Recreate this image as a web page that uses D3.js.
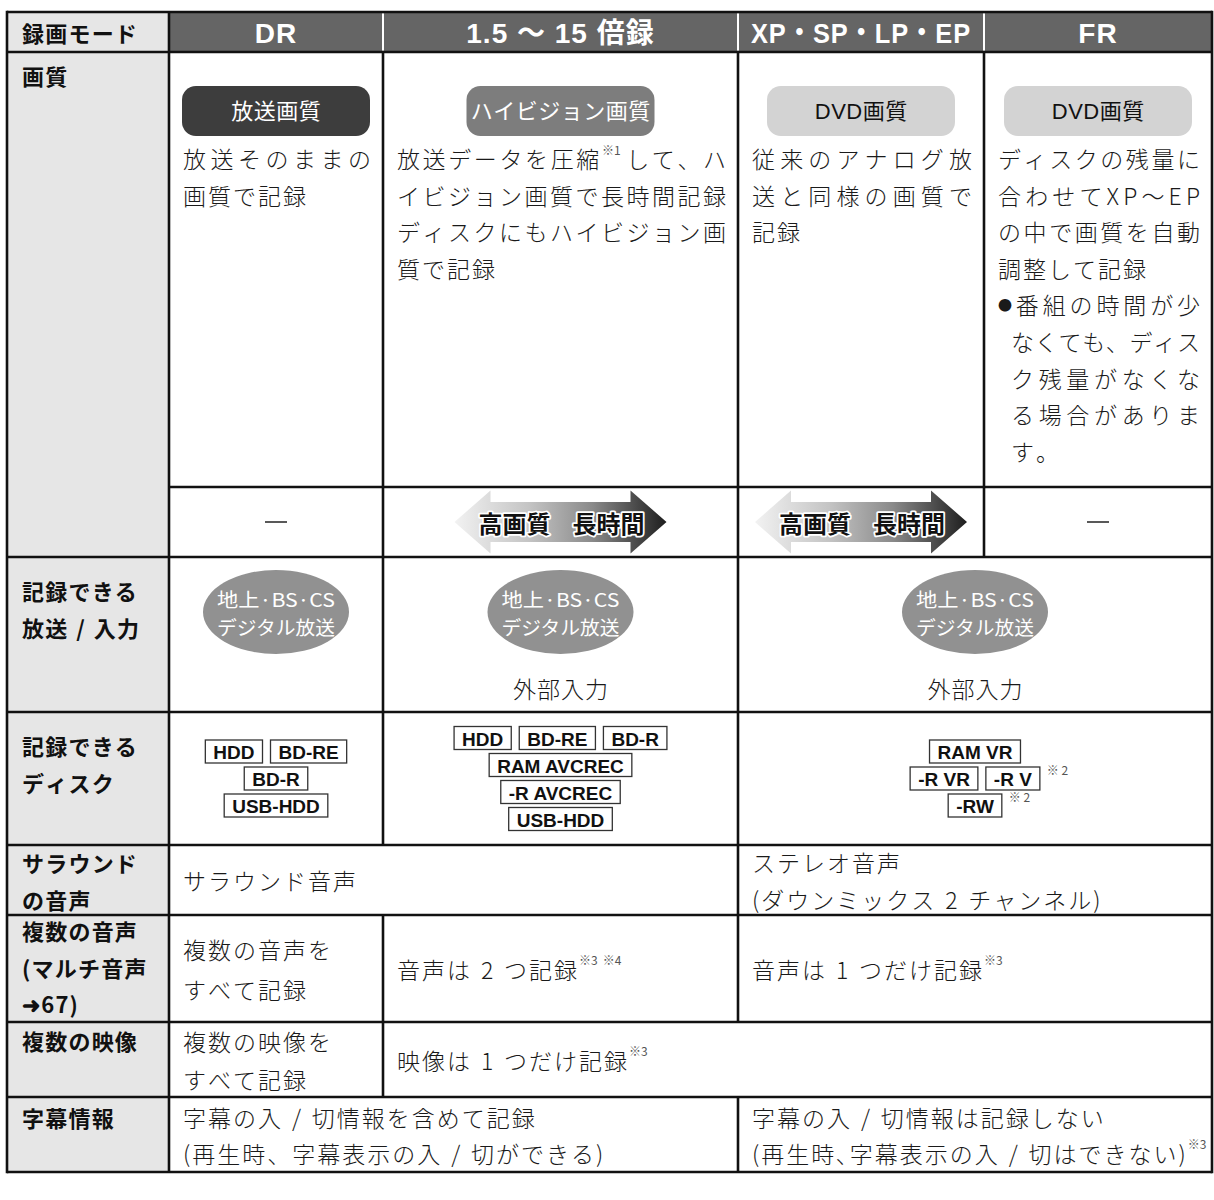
<!DOCTYPE html>
<html lang="ja"><head><meta charset="utf-8">
<script src="https://cdn.jsdelivr.net/npm/d3@7/dist/d3.min.js"></script>
<style>html,body{margin:0;padding:0;background:#fff}</style>
</head><body>
<svg id="chart" width="1214" height="1200"></svg>
<script>
// ---------------- data ----------------
const modes = ["録画モード", "DR", "1.5 ～ 15 倍録", "XP・SP・LP・EP", "FR"];
const rowLabels = [["画質"], ["記録できる", "放送 / 入力"], ["記録できる", "ディスク"], ["サラウンド", "の音声"], ["複数の音声", "(マルチ音声", "➜67)"], ["複数の映像"], ["字幕情報"]];
const qualityBadges = ["放送画質", "ハイビジョン画質", "DVD画質", "DVD画質"];
const qualityParagraphs = [
  [["放送そのままの", "画質で記録"]],
  [["放送データを圧縮※1して、ハ", "イビジョン画質で長時間記録", "ディスクにもハイビジョン画", "質で記録"]],
  [["従来のアナログ放", "送と同様の画質で", "記録"]],
  [["ディスクの残量に", "合わせてXP～EP", "の中で画質を自動", "調整して記録"], ["●番組の時間が少", "なくても、ディス", "ク残量がなくな", "る場合がありま", "す。"]]
];
const arrowRow = ["—", "arrow", "arrow", "—"];
const arrowLabels = ["高画質", "長時間"];
const broadcastBadge = ["地上·BS·CS", "デジタル放送"];
const broadcastExtra = [null, "外部入力", "外部入力"];
const diskLines = [
  [["HDD", "BD-RE"], ["BD-R"], ["USB-HDD"]],
  [["HDD", "BD-RE", "BD-R"], ["RAM AVCREC"], ["-R AVCREC"], ["USB-HDD"]],
  [["RAM VR"], ["-R VR", "-R V※2"], ["-RW※2"]]
];
const surroundText = [["サラウンド音声"], ["ステレオ音声", "(ダウンミックス 2 チャンネル)"]];
const audioText = [["複数の音声を", "すべて記録"], ["音声は 2 つ記録※3※4"], ["音声は 1 つだけ記録※3"]];
const videoText = [["複数の映像を", "すべて記録"], ["映像は 1 つだけ記録※3"]];
const captionText = [["字幕の入 / 切情報を含めて記録", "(再生時、字幕表示の入 / 切ができる)"], ["字幕の入 / 切情報は記録しない", "(再生時､字幕表示の入 / 切はできない)※3"]];

// table structure (which mode columns each cell spans)
const spans = {
  quality: [[1, 2], [2, 3], [3, 4], [4, 5]],
  arrow: [[1, 2], [2, 3], [3, 4], [4, 5]],
  bcast: [[1, 2], [2, 3], [3, 5]],
  disk: [[1, 2], [2, 3], [3, 5]],
  surround: [[1, 3], [3, 5]],
  audio: [[1, 2], [2, 3], [3, 5]],
  video: [[1, 2], [2, 5]],
  caption: [[1, 3], [3, 5]]
};

// ---------------- layout ----------------
const svg = d3.select("#chart");
const FJ = '"Noto Sans CJK JP","Noto Sans",sans-serif';
const FL = '"Liberation Sans","Noto Sans CJK JP",sans-serif';
const colX = d3.scaleOrdinal().domain(d3.range(6)).range([7, 169, 383, 738, 984, 1212]);
const rowKeys = ["top", "head", "quality", "arrow", "bcast", "disk", "surround", "audio", "video", "caption"];
const rowY = d3.scaleOrdinal().domain(rowKeys).range([12, 52, 487, 557, 712, 845, 915, 1022, 1097, 1172]);
const band = k => { const i = rowKeys.indexOf(k); return [rowY(rowKeys[i - 1]), rowY(k)]; };
const labelBands = ["head", "arrow", "bcast", "disk", "surround", "audio", "video"];
const labelOffsets = [23, 33, 33, 17, 15, 18, 20];

const gBg = svg.append("g"), gC = svg.append("g"), gL = svg.append("g");

// text measuring
const meas = svg.append("text").attr("x", 20).attr("y", 20).attr("visibility", "hidden");
const cache = new Map();
function tw(s, size, weight, fam) {
  const k = s + "|" + size + "|" + weight + "|" + fam;
  if (cache.has(k)) return cache.get(k);
  let w;
  if (s === " ") w = size * 0.3;
  else { meas.attr("font-size", size).attr("font-weight", weight).attr("font-family", fam).text(s); w = meas.node().getComputedTextLength(); }
  cache.set(k, w); return w;
}
function tokenize(str) {
  const out = []; const re = /※(\d)/g; let last = 0, m;
  while ((m = re.exec(str)) !== null) {
    for (const ch of str.slice(last, m.index)) out.push({ t: ch, sup: false });
    out.push({ t: "※" + m[1], sup: true }); last = re.lastIndex;
  }
  for (const ch of str.slice(last)) out.push({ t: ch, sup: false });
  return out;
}
function drawText(g, str, x, y, o = {}) {
  const size = o.size || 23, weight = o.weight || 300, fam = o.family || FJ, ls = (o.ls ?? 2), fill = o.fill || "#1a1a1a";
  const supSize = 12;
  const toks = tokenize(str);
  toks.forEach(t => {
    t.size = t.sup ? supSize : (t.t === "●" ? Math.round(size * 0.62) : size);
    t.w = t.sup ? tw(t.t, supSize, 400, FJ) + 3 : tw(t.t, t.size, weight, fam);
  });
  const sumW = d3.sum(toks, t => t.w);
  let gap = ls;
  if (o.justify && toks.length > 1) gap = (o.justify - sumW) / (toks.length - 1);
  const total = sumW + gap * (toks.length - 1);
  let cx = o.anchor === "middle" ? x - total / 2 : x;
  toks.forEach(t => {
    g.append("text").attr("x", cx).attr("y", t.sup ? y - 9 : y)
      .attr("dominant-baseline", "central")
      .attr("font-family", t.sup ? FJ : fam).attr("font-size", t.size)
      .attr("font-weight", t.sup ? 400 : weight)
      .attr("fill", t.sup ? "#555" : fill)
      .attr("stroke", o.stroke || null).attr("stroke-width", o.stroke ? o.strokeW : null)
      .attr("paint-order", o.stroke ? "stroke" : null).attr("stroke-linejoin", "round")
      .text(t.t);
    cx += t.w + gap;
  });
  return total;
}

// ---------------- backgrounds ----------------
const tableTop = rowY("top");
const tableBottom = rowY("caption");
gBg.append("rect").attr("x", colX(0)).attr("y", tableTop).attr("width", colX(1) - colX(0)).attr("height", tableBottom - tableTop).attr("fill", "#e6e6e6");
gBg.append("rect").attr("x", colX(1)).attr("y", tableTop).attr("width", colX(5) - colX(1)).attr("height", rowY("head") - tableTop).attr("fill", "#656565");

// header texts
modes.forEach((m, i) => {
  const yc = (rowY("top") + rowY("head")) / 2;
  if (i === 0) { drawText(gC, m, colX(0) + 15, yc, { size: 22, weight: 700, ls: 1.2, fill: "#111" }); return; }
  const w = tw(m, 28, 700, FL) + m.length * 1;
  const maxW = colX(i + 1) - colX(i) - 26;
  gC.append("text").attr("x", (colX(i) + colX(i + 1)) / 2).attr("y", yc + 1)
    .attr("text-anchor", "middle").attr("dominant-baseline", "central")
    .attr("font-family", FL).attr("font-size", 28).attr("font-weight", 700).attr("fill", "#fff")
    .attr("letter-spacing", 1)
    .attr("textLength", w > maxW ? maxW : null).attr("lengthAdjust", w > maxW ? "spacingAndGlyphs" : null)
    .text(m);
});

// row labels
rowLabels.forEach((lines, i) => {
  const t = rowY(labelBands[i]);
  lines.forEach((s, li) => drawText(gC, s, colX(0) + 15, t + labelOffsets[i] + li * 36.5, { size: 22, weight: 700, ls: 1.2, fill: "#111" }));
});

// ---------------- quality row ----------------
(function () {
  const [t] = band("quality");
  const shades = [["#3d3d3d", "#fff"], ["#7d7d7d", "#fff"], ["#d3d3d3", "#111"], ["#d3d3d3", "#111"]];
  qualityBadges.forEach((b, i) => {
    const [c0, c1] = spans.quality[i];
    const cx = (colX(c0) + colX(c1)) / 2;
    gC.append("rect").attr("x", cx - 94).attr("y", t + 34).attr("width", 188).attr("height", 50)
      .attr("rx", 14).attr("fill", shades[i][0]);
    drawText(gC, b, cx, t + 59, { size: 22, weight: 400, ls: 0.5, fill: shades[i][1], anchor: "middle", family: FL });
  });
  qualityParagraphs.forEach((paras, i) => {
    const [c0, c1] = spans.quality[i];
    const x0 = colX(c0) + 14, x1 = colX(c1) - 12;
    let line = 0;
    paras.forEach(p => {
      const bullet = p[0].startsWith("●");
      p.forEach((s, li) => {
        const indent = bullet && li > 0 ? 13 : 0;
        const last = li === p.length - 1;
        drawText(gC, s, x0 + indent, t + 106 + line * 36.6, { justify: last ? null : (x1 - x0 - indent) });
        line++;
      });
    });
  });
})();

// ---------------- arrow row ----------------
(function () {
  const [t, b] = band("arrow");
  const yc = (t + b) / 2;
  const defs = svg.append("defs");
  const gr = defs.append("linearGradient").attr("id", "ag").attr("x1", 0).attr("x2", 1).attr("y1", 0).attr("y2", 0);
  [[0, "#f2f2f2"], [0.35, "#c4c4c4"], [0.65, "#8a8a8a"], [1, "#1e1e1e"]].forEach(([o, c]) => gr.append("stop").attr("offset", o).attr("stop-color", c));
  arrowRow.forEach((kind, i) => {
    const [c0, c1] = spans.arrow[i];
    const cx = (colX(c0) + colX(c1)) / 2;
    if (kind === "—") {
      gC.append("line").attr("x1", cx - 11).attr("x2", cx + 11).attr("y1", yc).attr("y2", yc).attr("stroke", "#222").attr("stroke-width", 1.5);
      return;
    }
    const x0 = cx - 106, x1 = cx + 106, H = 63, bh = 40, hl = 36;
    const pts = [[x0, yc], [x0 + hl, yc - H / 2], [x0 + hl, yc - bh / 2], [x1 - hl, yc - bh / 2], [x1 - hl, yc - H / 2], [x1, yc],
      [x1 - hl, yc + H / 2], [x1 - hl, yc + bh / 2], [x0 + hl, yc + bh / 2], [x0 + hl, yc + H / 2]];
    gC.append("path").attr("d", d3.line()(pts) + "Z").attr("fill", "url(#ag)");
    drawText(gC, arrowLabels[0], cx - 46, yc, { size: 24, weight: 700, ls: 0, anchor: "middle", fill: "#111", stroke: "#fff", strokeW: 3.5 });
    drawText(gC, arrowLabels[1], cx + 48, yc, { size: 24, weight: 700, ls: 0, anchor: "middle", fill: "#111", stroke: "#fff", strokeW: 3.5 });
  });
})();

// ---------------- broadcast row ----------------
(function () {
  const [t] = band("bcast");
  const ey = t + 55;
  spans.bcast.forEach(([c0, c1], i) => {
    const cx = (colX(c0) + colX(c1)) / 2;
    gC.append("ellipse").attr("cx", cx).attr("cy", ey).attr("rx", 73).attr("ry", 42).attr("fill", "#919191");
    broadcastBadge.forEach((s, li) => gC.append("text").attr("x", cx).attr("y", ey - 14 + li * 28)
      .attr("text-anchor", "middle").attr("dominant-baseline", "central")
      .attr("font-family", FJ).attr("font-size", 19).attr("fill", "#fff")
      .attr("textLength", 118).attr("lengthAdjust", "spacingAndGlyphs").text(s));
    if (broadcastExtra[i]) drawText(gC, broadcastExtra[i], cx, t + 131, { anchor: "middle", ls: 1 });
  });
})();

// ---------------- disk row ----------------
(function () {
  const [t, b] = band("disk");
  const cy = (t + b) / 2;
  diskLines.forEach((lines, i) => {
    const [c0, c1] = spans.disk[i];
    const cx = (colX(c0) + colX(c1)) / 2;
    lines.forEach((items, li) => {
      const y = cy + (li - (lines.length - 1) / 2) * 27;
      const parsed = items.map(s => { const m = s.match(/^(.*?)(※\d)?$/); return { lab: m[1], note: m[2] || null }; });
      parsed.forEach(p => { p.w = tw(p.lab, 19, 700, FL) + 16; });
      const total = d3.sum(parsed, p => p.w) + 8 * (parsed.length - 1);
      let x = cx - total / 2;
      parsed.forEach(p => {
        gC.append("rect").attr("x", x).attr("y", y - 11.5).attr("width", p.w).attr("height", 23)
          .attr("fill", "#fff").attr("stroke", "#333").attr("stroke-width", 1.3);
        gC.append("text").attr("x", x + p.w / 2).attr("y", y + 1).attr("text-anchor", "middle").attr("dominant-baseline", "central")
          .attr("font-family", FL).attr("font-size", 19).attr("font-weight", 700).attr("fill", "#111").text(p.lab);
        if (p.note) gC.append("text").attr("x", x + p.w + 7).attr("y", y - 9).attr("dominant-baseline", "central")
          .attr("font-family", FJ).attr("font-size", 12).attr("fill", "#555").text(p.note.replace("※", "※ "));
        x += p.w + 8;
      });
    });
  });
})();

// ---------------- simple text rows ----------------
function textRow(key, texts, spacing) {
  const [t, b] = band(key);
  const cy = (t + b) / 2;
  texts.forEach((lines, i) => {
    const [c0] = spans[key][i];
    lines.forEach((s, li) => drawText(gC, s, colX(c0) + 14, cy + (li - (lines.length - 1) / 2) * spacing, {}));
  });
}
textRow("surround", surroundText, 37);
textRow("audio", audioText, 40);
textRow("video", videoText, 38);
textRow("caption", captionText, 36);

// ---------------- grid lines ----------------
const LW = 2.6, LC = "#111";
const hline = (y, x0, x1, c = LC, w = LW) => gL.append("line").attr("x1", x0).attr("x2", x1).attr("y1", y).attr("y2", y).attr("stroke", c).attr("stroke-width", w);
const vline = (x, y0, y1, c = LC, w = LW) => gL.append("line").attr("x1", x).attr("x2", x).attr("y1", y0).attr("y2", y1).attr("stroke", c).attr("stroke-width", w);
rowKeys.forEach(k => { if (k !== "quality") hline(rowY(k), colX(0), colX(5)); });
hline(rowY("quality"), colX(1), colX(5));
[2, 3, 4].forEach(c => vline(colX(c), rowY("top") + 1.5, rowY("head") - 1.5, "#fff", 2));
Object.keys(spans).forEach(k => {
  const [t, b] = band(k);
  spans[k].forEach(([c0]) => { if (c0 > 1) vline(colX(c0), t, b); });
});
vline(colX(0), tableTop - LW / 2, tableBottom + LW / 2, LC, LW);
vline(colX(1), tableTop, tableBottom, LC, LW);
vline(colX(5), tableTop - LW / 2, tableBottom + LW / 2, LC, LW);
meas.remove();
</script>
</body></html>
